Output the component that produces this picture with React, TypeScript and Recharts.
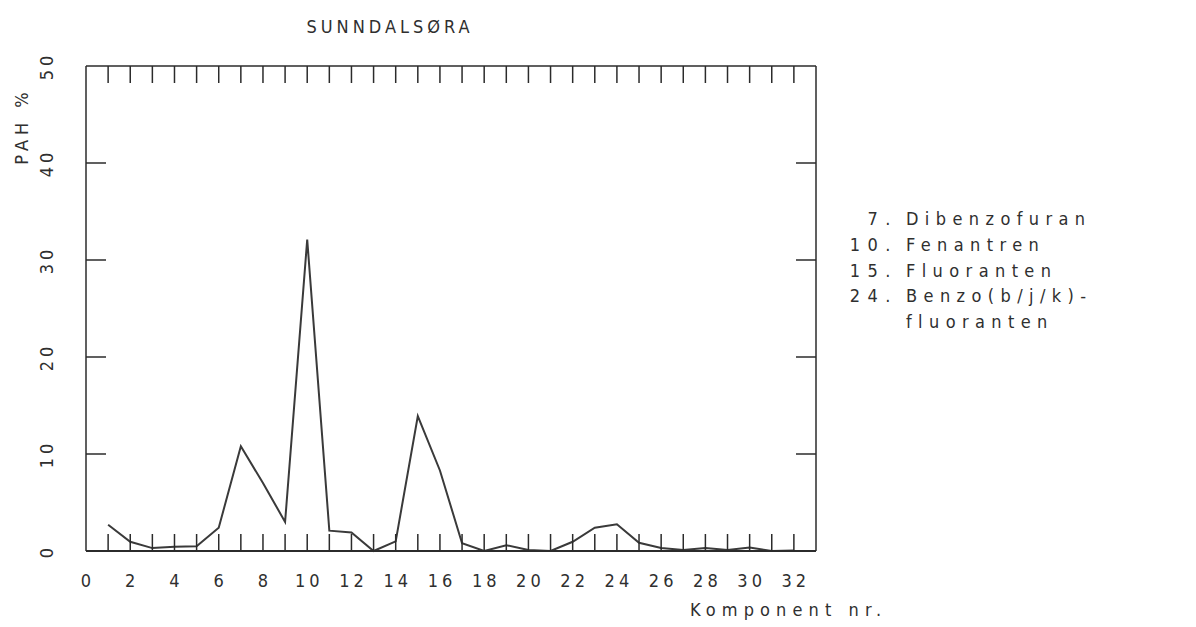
import { LineChart, Line, XAxis, YAxis } from 'recharts';

// PAH-profil, Sunndalsøra: andel av sum PAH per komponent
const komponent = [
  1, 2, 3, 4, 5, 6, 7, 8, 9, 10, 11, 12, 13, 14, 15, 16,
  17, 18, 19, 20, 21, 22, 23, 24, 25, 26, 27, 28, 29, 30, 31, 32,
];
const pahProsent = [
  2.7, 0.95, 0.3, 0.45, 0.5, 2.4, 10.8, 7.0, 3.0, 32.1, 2.1, 1.9, 0.0, 1.0, 13.9, 8.3,
  0.8, 0.0, 0.6, 0.1, 0.0, 0.95, 2.4, 2.75, 0.85, 0.3, 0.1, 0.3, 0.1, 0.35, 0.0, 0.05,
];
const xEtiketter = [0, 2, 4, 6, 8, 10, 12, 14, 16, 18, 20, 22, 24, 26, 28, 30, 32];
const yEtiketter = [0, 10, 20, 30, 40, 50];
const yMerker = [10, 20, 30, 40];
const legendNr = ['7.', '10.', '15.', '24.', ''];
const legendNavn = ['Dibenzofuran', 'Fenantren', 'Fluoranten', 'Benzo(b/j/k)-', 'fluoranten'];

const data = komponent.map((k, i) => ({ k, pah: pahProsent[i] }));

const FONT = "'Liberation Sans Narrow', 'DejaVu Sans Condensed', 'Liberation Sans', Arial, sans-serif";
const INK = '#2b2b2b';
const TEXT = '#2f2f2f';

function XTick({ x, y, payload }: any) {
  return (
    <text
      x={x + 2}
      y={y + 36}
      textAnchor="middle"
      fontFamily={FONT}
      fontSize={18}
      letterSpacing={4}
      fill={TEXT}
    >
      {payload.value}
    </text>
  );
}

function YTick({ x, y, payload }: any) {
  const tx = x - 35;
  return (
    <text
      x={tx}
      y={y + 2}
      transform={`rotate(-90 ${tx} ${y})`}
      textAnchor="middle"
      fontFamily={FONT}
      fontSize={18}
      letterSpacing={4}
      fill={TEXT}
    >
      {payload.value}
    </text>
  );
}

// tick marks only, no labels
const NoLabel = () => <g />;

export default function App() {
  return (
    <div style={{ position: 'absolute', left: 0, top: 0, width: 1196, height: 627 }}>
      <LineChart
        width={1196}
        height={627}
        data={data}
        margin={{ top: 66, right: 380, bottom: 36, left: 0 }}
      >
        {/* labelled axes */}
        <XAxis
          xAxisId="lab"
          dataKey="k"
          type="number"
          domain={[0, 33]}
          ticks={xEtiketter}
          height={40}
          axisLine={false}
          tickLine={false}
          tickSize={0}
          tickMargin={0}
          tick={<XTick />}
        />
        <YAxis
          yAxisId="lab"
          dataKey="pah"
          type="number"
          domain={[0, 50]}
          ticks={yEtiketter}
          width={86}
          axisLine={false}
          tickLine={false}
          tickSize={0}
          tickMargin={0}
          tick={<YTick />}
        />
        {/* frame with inward tick marks */}
        <XAxis
          xAxisId="bunn"
          dataKey="k"
          type="number"
          orientation="bottom"
          mirror
          domain={[0, 33]}
          ticks={komponent}
          tickSize={17}
          tick={<NoLabel />}
          axisLine={{ stroke: INK, strokeWidth: 2 }}
          tickLine={{ stroke: INK, strokeWidth: 1.5 }}
        />
        <XAxis
          xAxisId="topp"
          dataKey="k"
          type="number"
          orientation="top"
          mirror
          domain={[0, 33]}
          ticks={komponent}
          tickSize={17}
          tick={<NoLabel />}
          axisLine={{ stroke: INK, strokeWidth: 1.5 }}
          tickLine={{ stroke: INK, strokeWidth: 1.5 }}
        />
        <YAxis
          yAxisId="venstre"
          dataKey="pah"
          type="number"
          orientation="left"
          mirror
          domain={[0, 50]}
          ticks={yMerker}
          interval={0}
          tickSize={20}
          tick={<NoLabel />}
          axisLine={{ stroke: INK, strokeWidth: 1.5 }}
          tickLine={{ stroke: INK, strokeWidth: 1.5 }}
        />
        <YAxis
          yAxisId="hoyre"
          dataKey="pah"
          type="number"
          orientation="right"
          mirror
          domain={[0, 50]}
          ticks={yMerker}
          interval={0}
          tickSize={20}
          tick={<NoLabel />}
          axisLine={{ stroke: INK, strokeWidth: 1.5 }}
          tickLine={{ stroke: INK, strokeWidth: 1.5 }}
        />
        <Line
          xAxisId="lab"
          yAxisId="lab"
          type="linear"
          dataKey="pah"
          stroke="#3a3a3a"
          strokeWidth={2}
          dot={false}
          isAnimationActive={false}
        />
      </LineChart>
      <svg
        width={1196}
        height={627}
        style={{ position: 'absolute', left: 0, top: 0, pointerEvents: 'none' }}
        fontFamily={FONT}
        fill={TEXT}
      >
        <text x={390} y={33} textAnchor="middle" fontSize={18} letterSpacing={4}>
          SUNNDALSØRA
        </text>
        <text
          x={28}
          y={126}
          transform="rotate(-90 28 126)"
          textAnchor="middle"
          fontSize={18}
          letterSpacing={5}
        >
          PAH %
        </text>
        <text x={690} y={616} fontSize={18} letterSpacing={6.1}>
          Komponent nr.
        </text>
        {legendNavn.map((navn, i) => (
          <g key={navn}>
            <text x={898} y={225 + i * 25.8} textAnchor="end" fontSize={18} letterSpacing={7.5}>
              {legendNr[i]}
            </text>
            <text x={906} y={225 + i * 25.8} fontSize={18} letterSpacing={6.4}>
              {navn}
            </text>
          </g>
        ))}
      </svg>
    </div>
  );
}
